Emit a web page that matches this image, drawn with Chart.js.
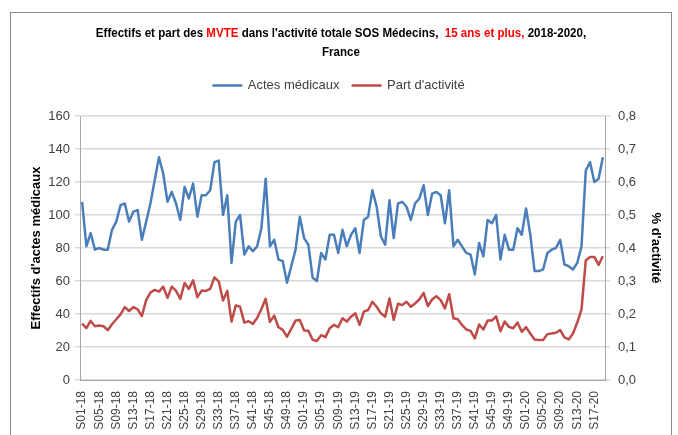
<!DOCTYPE html>
<html>
<head>
<meta charset="utf-8">
<script src="https://cdn.jsdelivr.net/npm/chart.js@4.4.1/dist/chart.umd.min.js"></script>
<style>
  html, body { margin: 0; padding: 0; background: #fff; }
  #wrap { position: relative; width: 678px; height: 435px; overflow: hidden; }
  #cadre { position: absolute; left: 10px; top: 12px; width: 660px; height: 460px; border: 1px solid #8c8c8c; }
  #titre {
    position: absolute; left: 0; top: 23px; width: 682px; text-align: center;
    font: bold 13px 'Liberation Sans', Arial, sans-serif;
    line-height: 19px; color: #000;
    transform-origin: 50% 0;
  }
  #titre .rouge { color: #ff0000; }
  canvas { position: absolute; left: 0; top: 0; }
</style>
</head>
<body>
<div id="wrap">
  <div id="cadre"></div>
  <canvas id="graphe" width="678" height="435"></canvas>
  <div id="titre"><span id="ligne1">Effectifs et part des <span class="rouge">MVTE</span> dans l'activité totale SOS Médecins, &nbsp;<span class="rouge">15 ans et plus,</span> 2018-2020,</span><br>France</div>
</div>
<script>
// semaines S01-18 .. S19-20
var annees = [['18', 52], ['19', 52], ['20', 19]];
var semaines = [];
annees.forEach(function (a) {
    for (var w = 1; w <= a[1]; w++) {
        semaines.push('S' + (w < 10 ? '0' : '') + w + '-' + a[0]);
    }
});

// nombre d'actes médicaux MVTE par semaine
var actesMedicaux = [
    108, 81, 89, 79, 80, 79, 79, 91, 96, 106,
    107, 96, 102, 103, 85, 96, 107, 121, 135, 125,
    108, 114, 107, 97, 117, 110, 119, 99, 112, 112,
    115, 132, 133, 100, 112, 71, 96, 100, 76, 81,
    78, 81, 92, 122, 81, 85, 73, 72, 59, 69,
    79, 99, 86, 82, 62, 60, 77, 73, 88, 88,
    77, 91, 81, 88, 92, 77, 97, 99, 115, 105,
    87, 82, 109, 86, 107, 108, 105, 97, 107, 110,
    118, 100, 113, 114, 112, 95, 115, 81, 85, 81,
    77, 76, 64, 83, 75, 97, 95, 100, 73, 88,
    79, 79, 92, 88, 104, 88, 66, 66, 67, 77,
    79, 80, 85, 70, 69, 67, 71, 81, 127, 132,
    120, 122, 135
];

// part des MVTE dans l'activité totale
var partActivite = [
    0.171, 0.157, 0.179, 0.163, 0.165, 0.163, 0.151, 0.169, 0.184, 0.199,
    0.221, 0.209, 0.221, 0.214, 0.194, 0.242, 0.265, 0.273, 0.268, 0.283,
    0.249, 0.283, 0.270, 0.246, 0.294, 0.276, 0.302, 0.251, 0.271, 0.270,
    0.276, 0.311, 0.299, 0.241, 0.270, 0.177, 0.226, 0.222, 0.174, 0.178,
    0.170, 0.188, 0.215, 0.246, 0.176, 0.195, 0.160, 0.152, 0.131, 0.155,
    0.180, 0.182, 0.150, 0.149, 0.122, 0.118, 0.136, 0.130, 0.157, 0.167,
    0.160, 0.187, 0.177, 0.192, 0.202, 0.167, 0.207, 0.212, 0.237, 0.222,
    0.202, 0.192, 0.247, 0.182, 0.231, 0.227, 0.237, 0.222, 0.232, 0.244,
    0.264, 0.224, 0.244, 0.254, 0.242, 0.217, 0.260, 0.187, 0.184, 0.167,
    0.153, 0.149, 0.126, 0.168, 0.153, 0.180, 0.180, 0.193, 0.148, 0.177,
    0.161, 0.157, 0.174, 0.146, 0.160, 0.141, 0.123, 0.121, 0.121, 0.139,
    0.141, 0.143, 0.151, 0.129, 0.123, 0.141, 0.174, 0.214, 0.363, 0.373,
    0.373, 0.349, 0.375
];

// titre ramené à la largeur voulue
var l1 = document.getElementById('ligne1');
document.getElementById('titre').style.transform = 'scaleX(' + (491 / l1.offsetWidth).toFixed(3) + ')';

var police = "'Liberation Sans', Arial, sans-serif";
var gris = '#404040';

// espace supplémentaire sous la légende
var espaceLegende = {
    id: 'espaceLegende',
    beforeInit: function (chart) {
        var fit = chart.legend.fit;
        chart.legend.fit = function () {
            fit.call(this);
            this.height += 14;
        };
    }
};

var ctx = document.getElementById('graphe').getContext('2d');
var graphe = new Chart(ctx, {
    type: 'line',
    data: {
        labels: semaines,
        datasets: [{
            label: 'Actes médicaux',
            data: actesMedicaux,
            yAxisID: 'y',
            borderColor: '#4A7EBB',
            backgroundColor: '#4A7EBB',
            borderWidth: 2.5,
            borderJoinStyle: 'round',
            pointRadius: 0,
            fill: false
        }, {
            label: "Part d'activité",
            data: partActivite,
            yAxisID: 'y2',
            borderColor: '#BE4B48',
            backgroundColor: '#BE4B48',
            borderWidth: 2.5,
            borderJoinStyle: 'round',
            pointRadius: 0,
            fill: false
        }]
    },
    plugins: [espaceLegende],
    options: {
        responsive: false,
        animation: false,
        layout: {padding: {top: 66, left: 0, right: 0, bottom: 0}},
        plugins: {
            tooltip: {enabled: false},
            legend: {
                position: 'top',
                labels: {
                    boxWidth: 28,
                    boxHeight: 0,
                    padding: 13,
                    color: gris,
                    font: {family: police, size: 13}
                }
            }
        },
        scales: {
            x: {
                offset: true,
                grid: {display: false},
                border: {color: '#a6a6a6', width: 1},
                ticks: {
                    autoSkip: false,
                    minRotation: 90,
                    maxRotation: 90,
                    padding: 3,
                    color: gris,
                    font: {family: police, size: 12},
                    callback: function (v, i) {
                        return i % 4 === 0 ? this.getLabelForValue(v) : null;
                    }
                },
                afterFit: function (s) { s.height = 55; }
            },
            y: {
                position: 'left',
                min: 0,
                max: 160,
                ticks: {stepSize: 20, color: gris, padding: 5, font: {family: police, size: 13}},
                grid: {color: '#d9d9d9', lineWidth: 1.5, tickLength: 5},
                border: {color: '#a6a6a6', width: 1},
                title: {
                    display: true,
                    text: "Effectifs d'actes médicaux",
                    color: '#000',
                    padding: {top: 29, bottom: 0},
                    font: {family: police, size: 13, weight: 'bold'}
                },
                afterFit: function (s) { s.width = 80; }
            },
            y2: {
                position: 'right',
                min: 0,
                max: 0.8,
                ticks: {
                    stepSize: 0.1,
                    color: gris,
                    padding: 8,
                    font: {family: police, size: 13},
                    callback: function (v) { return v.toFixed(1).replace('.', ','); }
                },
                grid: {drawOnChartArea: false, color: '#d9d9d9', lineWidth: 1.5, tickLength: 5},
                border: {color: '#a6a6a6', width: 1},
                title: {
                    display: true,
                    text: "% d'activité",
                    color: '#000',
                    padding: {top: 15, bottom: 0},
                    font: {family: police, size: 13, weight: 'bold'}
                },
                afterFit: function (s) { s.width = 73; }
            }
        }
    }
});
</script>
</body>
</html>
